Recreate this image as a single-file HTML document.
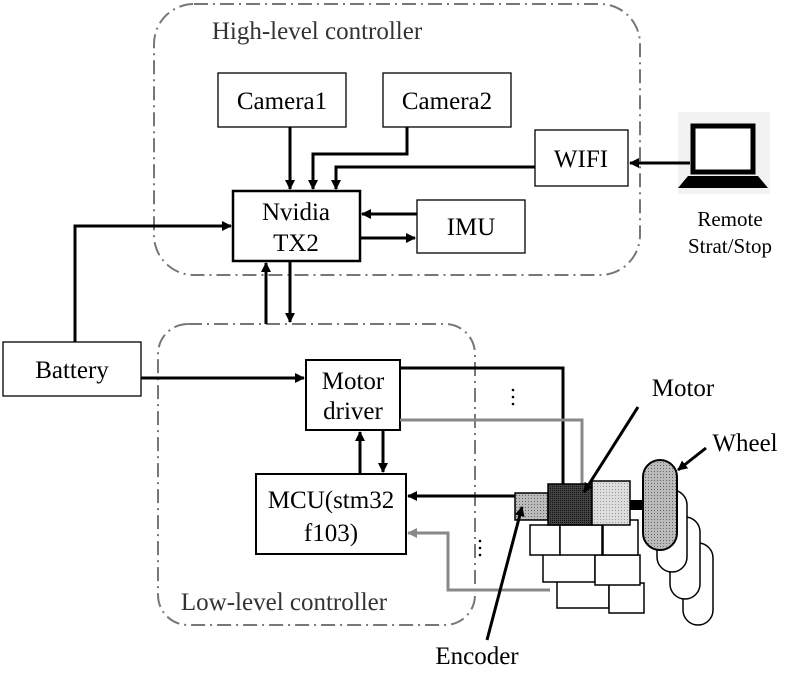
<!DOCTYPE html>
<html><head><style>body{margin:0;background:#fff}svg{display:block}text{font-family:"Liberation Serif",serif;fill:#000}</style></head><body>
<svg width="793" height="683" viewBox="0 0 793 683" xmlns="http://www.w3.org/2000/svg">
<defs><marker id="a" markerWidth="10" markerHeight="10" refX="9" refY="5" orient="auto" markerUnits="userSpaceOnUse"><path d="M0,0 L10,5 L0,10 z" fill="#000"/></marker>
<marker id="g" markerWidth="10" markerHeight="10" refX="9" refY="5" orient="auto" markerUnits="userSpaceOnUse"><path d="M0,0 L10,5 L0,10 z" fill="#888"/></marker>
<pattern id="d1" width="3" height="3" patternUnits="userSpaceOnUse"><rect width="3" height="3" fill="#bbb"/><rect width="1" height="1" fill="#666"/></pattern>
<pattern id="d2" width="2" height="2" patternUnits="userSpaceOnUse"><rect width="2" height="2" fill="#444"/><rect width="1" height="1" fill="#111"/></pattern>
<pattern id="d3" width="3" height="3" patternUnits="userSpaceOnUse"><rect width="3" height="3" fill="#ddd"/><rect width="1" height="1" fill="#999"/></pattern></defs>
<g fill="none" stroke="#777" stroke-width="2" stroke-dasharray="14,5,2,5">
<rect x="154" y="4" width="486" height="271" rx="40"/>
<rect x="158" y="324" width="317" height="301" rx="30"/></g>
<text x="317" y="39" font-size="25" text-anchor="middle" style="fill:#333">High-level controller</text>
<text x="284" y="610" font-size="25" text-anchor="middle" style="fill:#333">Low-level controller</text>
<g stroke="#000" fill="#fff" stroke-width="1.3">
<rect x="218" y="73" width="128" height="54"/><rect x="383" y="73" width="128" height="54"/>
<rect x="535" y="130" width="93" height="56"/><rect x="417" y="200" width="108" height="53"/>
<rect x="3" y="342" width="138" height="54"/><rect x="256" y="474" width="150" height="80" stroke-width="2"/>
<rect x="306" y="360" width="94" height="70" stroke-width="2"/><rect x="233" y="191" width="127" height="70" stroke-width="2.5"/></g>
<g font-size="25" text-anchor="middle">
<text x="282" y="109">Camera1</text><text x="447" y="109">Camera2</text><text x="581" y="167">WIFI</text>
<text x="471" y="235">IMU</text><text x="296" y="220">Nvidia</text><text x="296" y="251">TX2</text>
<text x="72" y="378">Battery</text><text x="353" y="389">Motor</text><text x="353" y="419">driver</text>
<text x="331" y="508">MCU(stm32</text><text x="331" y="541">f103)</text>
<text x="683" y="396">Motor</text><text x="745" y="451">Wheel</text><text x="477" y="664">Encoder</text></g>
<g font-size="21" text-anchor="middle"><text x="730" y="226">Remote</text><text x="730" y="253">Strat/Stop</text></g>
<rect x="678" y="112" width="92" height="82" fill="#f2f2f2"/>
<rect x="693" y="126" width="60" height="46" fill="#fff" stroke="#000" stroke-width="5"/>
<path d="M688,176 L758,176 L768,188 L678,188 z" fill="#000"/>
<g stroke="#000" stroke-width="3" fill="none">
<path d="M290,127 V189" marker-end="url(#a)"/><path d="M407,127 V154 H313 V189" marker-end="url(#a)"/>
<path d="M535,167 H336 V189" marker-end="url(#a)"/><path d="M690,163 H630" marker-end="url(#a)"/>
<path d="M417,214 H362" marker-end="url(#a)"/><path d="M360,238 H415" marker-end="url(#a)"/>
<path d="M75,342 V226 H231" marker-end="url(#a)"/><path d="M141,378 H304" marker-end="url(#a)"/>
<path d="M266,324 V263" marker-end="url(#a)"/><path d="M290,261 V322" marker-end="url(#a)"/>
<path d="M360,474 V432" marker-end="url(#a)"/><path d="M383,430 V472" marker-end="url(#a)"/>
<path d="M400,368 H563 V485"/><path d="M515,496 H408" marker-end="url(#a)"/></g>
<g stroke="#888" stroke-width="3" fill="none"><path d="M400,420 H582 V484"/><path d="M550,590 H448 V533 H408" marker-end="url(#g)"/></g>
<g fill="#000"><circle cx="513" cy="390" r="1.3"/><circle cx="513" cy="397" r="1.3"/><circle cx="513" cy="404" r="1.3"/>
<circle cx="480" cy="541" r="1.3"/><circle cx="480" cy="548" r="1.3"/><circle cx="480" cy="555" r="1.3"/></g>
<g stroke="#000" stroke-width="1.5" fill="#fff">
<rect x="683" y="543" width="30" height="82" rx="15"/><rect x="670" y="517" width="30" height="82" rx="15"/><rect x="657" y="490" width="30" height="82" rx="15"/>
<rect x="557" y="580" width="52" height="28"/><rect x="609" y="583" width="35" height="30"/>
<rect x="543" y="552" width="52" height="30"/><rect x="595" y="555" width="45" height="30"/>
<rect x="530" y="525" width="30" height="30"/><rect x="560" y="525" width="42" height="30"/><rect x="603" y="520" width="35" height="35"/></g>
<rect x="515" y="493" width="33" height="27" fill="url(#d1)" stroke="#000" stroke-width="1.5"/>
<rect x="548" y="484" width="44" height="41" fill="url(#d2)" stroke="#000" stroke-width="1.5"/>
<rect x="592" y="481" width="38" height="44" fill="url(#d3)" stroke="#000" stroke-width="1.5"/>
<rect x="630" y="500" width="15" height="10" fill="#000"/>
<rect x="643" y="460" width="34" height="90" rx="17" fill="url(#d1)" stroke="#000" stroke-width="2"/>
<g stroke="#000" stroke-width="3" fill="none">
<path d="M638,407 L584,492" marker-end="url(#a)"/><path d="M706,448 L678,470" marker-end="url(#a)"/>
<path d="M487,640 L522,507" marker-end="url(#a)"/></g>
</svg></body></html>
